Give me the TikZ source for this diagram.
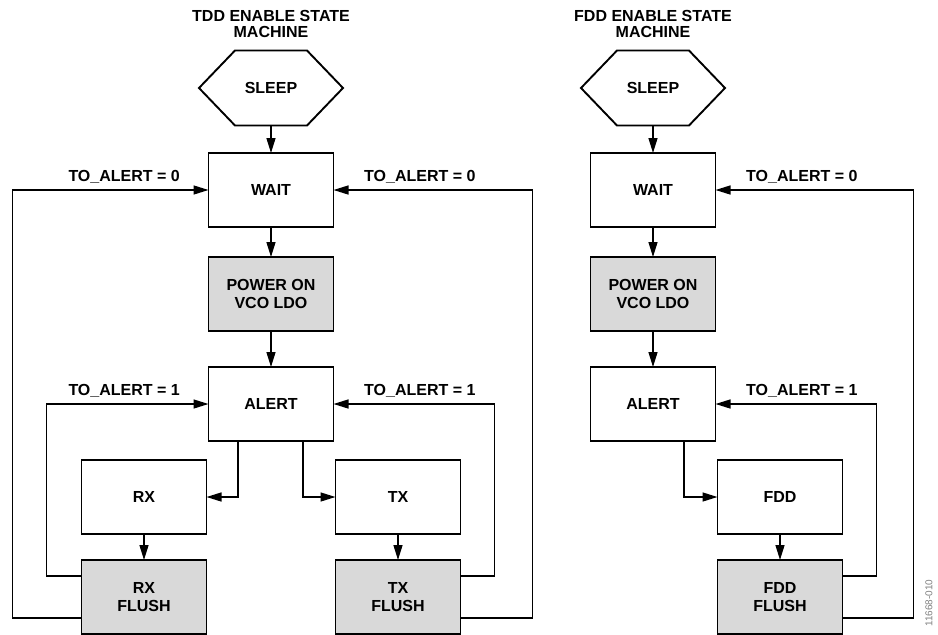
\documentclass[tikz,border=0pt]{standalone}
\usepackage{fontspec}
\setmainfont{Liberation Sans}
\usetikzlibrary{arrows.meta,calc}
\definecolor{flushgray}{HTML}{D9D9D9}

\begin{document}
\begin{tikzpicture}[x=1pt,y=-1pt,>={Triangle[length=15pt,width=9pt]},
    font=\bfseries\fontsize{16}{18}\selectfont,line width=1.4pt,
    state/.style={draw,line width=1.9pt,minimum width=125pt,minimum height=74pt,
                  align=center,inner sep=2pt,outer sep=0pt},
    shaded/.style={state,fill=flushgray},
    hexbox/.style={minimum width=144pt,minimum height=75pt,inner sep=0pt,outer sep=0pt},
    cond/.style={inner sep=0pt},
    title/.style={align=center,font=\bfseries\fontsize{16}{16}\selectfont}]
  \useasboundingbox (0,0) rectangle (938,635);
  \def\Tc{271}  % TDD column centre
  \def\Fc{653}  % FDD column centre
  \def\dx{127}  % offset of the RX / TX / FDD columns
  % TDD machine
  \node[title]  (ttlT)   at (\Tc,24)      {TDD ENABLE STATE\\MACHINE};
  \node[hexbox] (sleepT) at (\Tc,88)      {SLEEP};
  \node[state]  (waitT)  at (\Tc,190)     {WAIT};
  \node[shaded] (pwrT)   at (\Tc,294)     {POWER ON\\VCO LDO};
  \node[state]  (alertT) at (\Tc,404)     {ALERT};
  \node[state]  (rxT)    at (\Tc-\dx,497) {RX};
  \node[state]  (txT)    at (\Tc+\dx,497) {TX};
  \node[shaded] (rxfT)   at (\Tc-\dx,597) {RX\\FLUSH};
  \node[shaded] (txfT)   at (\Tc+\dx,597) {TX\\FLUSH};
  % FDD machine
  \node[title]  (ttlF)   at (\Fc,24)      {FDD ENABLE STATE\\MACHINE};
  \node[hexbox] (sleepF) at (\Fc,88)      {SLEEP};
  \node[state]  (waitF)  at (\Fc,190)     {WAIT};
  \node[shaded] (pwrF)   at (\Fc,294)     {POWER ON\\VCO LDO};
  \node[state]  (alertF) at (\Fc,404)     {ALERT};
  \node[state]  (fddF)   at (\Fc+\dx,497) {FDD};
  \node[shaded] (fddfF)  at (\Fc+\dx,597) {FDD\\FLUSH};
  % hexagon outlines of the sleep states
  \foreach \h in {sleepT,sleepF}
    \draw[line width=1.9pt] (\h.west) -- ($(\h.north west)+(36,0)$) -- ($(\h.north east)+(-36,0)$)
      -- (\h.east) -- ($(\h.south east)+(-36,0)$) -- ($(\h.south west)+(36,0)$) -- cycle;
  % TDD flow
  \draw[->] (sleepT) -- (waitT);
  \draw[->] (waitT) -- (pwrT);
  \draw[->] (pwrT) -- (alertT);
  \draw[->] ($(alertT.south)+(-33,0)$) |- (rxT.east);
  \draw[->] ($(alertT.south)+(32,0)$) |- (txT.west);
  \draw[->] (rxT) -- (rxfT);
  \draw[->] (txT) -- (txfT);
  % TDD loops back
  \draw[->] ($(rxfT.west)+(0,-21)$) -- ++(-35,0) |- (alertT.west)
    node[cond,pos=1,anchor=base east,xshift=-28pt,yshift=9pt]{TO\_ALERT = 1};
  \draw[->] ($(rxfT.west)+(0,21)$) -- ++(-69,0) |- (waitT.west)
    node[cond,pos=1,anchor=base east,xshift=-28pt,yshift=9pt]{TO\_ALERT = 0};
  \draw[->] ($(txfT.east)+(0,-21)$) -- ++(34,0) |- (alertT.east)
    node[cond,pos=1,anchor=base west,xshift=30pt,yshift=9pt]{TO\_ALERT = 1};
  \draw[->] ($(txfT.east)+(0,21)$) -- ++(72,0) |- (waitT.east)
    node[cond,pos=1,anchor=base west,xshift=30pt,yshift=9pt]{TO\_ALERT = 0};
  % FDD flow
  \draw[->] (sleepF) -- (waitF);
  \draw[->] (waitF) -- (pwrF);
  \draw[->] (pwrF) -- (alertF);
  \draw[->] ($(alertF.south)+(31,0)$) |- (fddF.west);
  \draw[->] (fddF) -- (fddfF);
  % FDD loops back
  \draw[->] ($(fddfF.east)+(0,-21)$) -- ++(34,0) |- (alertF.east)
    node[cond,pos=1,anchor=base west,xshift=30pt,yshift=9pt]{TO\_ALERT = 1};
  \draw[->] ($(fddfF.east)+(0,21)$) -- ++(71,0) |- (waitF.east)
    node[cond,pos=1,anchor=base west,xshift=30pt,yshift=9pt]{TO\_ALERT = 0};
  % figure number
  \node[rotate=90,font=\fontsize{10}{11}\selectfont,text=black!50] (figid) at (929,603) {11668-010};
\end{tikzpicture}
\end{document}
